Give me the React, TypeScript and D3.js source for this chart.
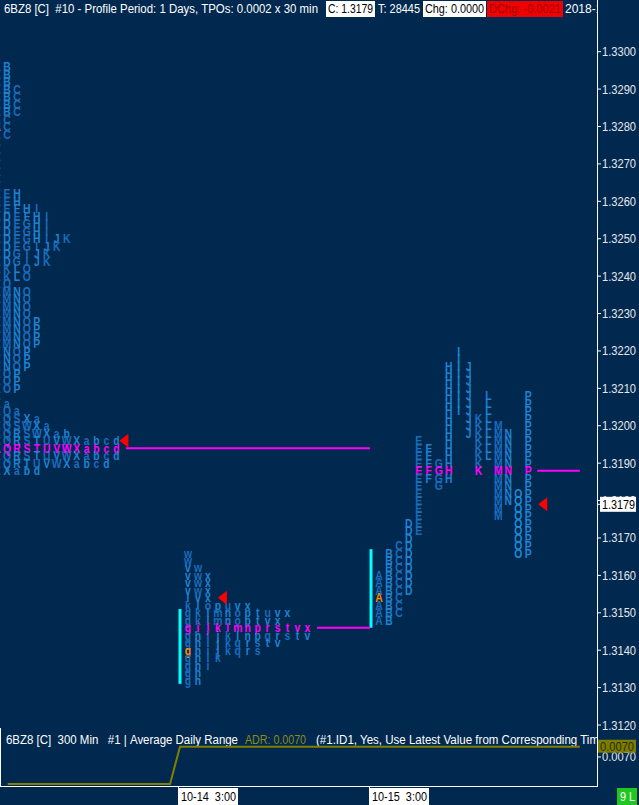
import * as d3 from "d3";

// TPO market profile, 6BZ8 30 min, 3 sessions + ADR sub-pane
const W = 639;
const H = 805;
const AXIS_X = 597;
const BOTTOM_Y = 787;
const BG = "#01294f";
const UI_FONT = "Liberation Sans, Arial, sans-serif";
const NB = "\u00a0";

const priceTicks = [1.33, 1.329, 1.328, 1.327, 1.326, 1.325, 1.324, 1.323, 1.322, 1.321, 1.32, 1.319, 1.318, 1.317, 1.316, 1.315, 1.314, 1.313, 1.312];

const sessionStarts = [new Date(2018, 9, 13, 3), new Date(2018, 9, 14, 3), new Date(2018, 9, 15, 3)];
const timeTicks = [new Date(2018, 9, 14, 3), new Date(2018, 9, 15, 3)];
const chartEnd = new Date(2018, 9, 16, 5, 30);

// day 1 (packed rows): price, letters
const day1Rows: [number, string][] = [
    [1.3296, "AB"], [1.3294, "AB"], [1.3292, "AB"], [1.329, "ABC"], [1.3288, "ABC"], [1.3286, "ABC"],
    [1.3284, "ABC"], [1.3282, "AC"], [1.328, "AC"], [1.3278, "AC"], [1.3276, "A"], [1.3274, "A"],
    [1.3272, "A"], [1.327, "A"], [1.3268, "A"], [1.3266, "A"], [1.3264, "A"], [1.3262, "AEH"],
    [1.326, "AEH"], [1.3258, "AEFHI"], [1.3256, "ADEFHI"], [1.3254, "ADEGHI"], [1.3252, "ADEGHI"],
    [1.325, "ADEGHIJK"], [1.3248, "ADEGIJK"], [1.3246, "ADGIJK"], [1.3244, "ADGIJK"], [1.3242, "AKLO"],
    [1.324, "AKLO"], [1.3238, "AO"], [1.3236, "AMNO"], [1.3234, "AMNO"], [1.3232, "AMNO"], [1.323, "AMNO"],
    [1.3228, "AMNOP"], [1.3226, "AMNOP"], [1.3224, "AMNOP"], [1.3222, "AMNOP"], [1.322, "ANOP"],
    [1.3218, "ANOP"], [1.3216, "ANOP"], [1.3214, "AOP"], [1.3212, "AOP"], [1.321, "AOP"], [1.3208, "A"],
    [1.3206, "Aa"], [1.3204, "AQa"], [1.3202, "AQSXa"], [1.32, "AQSWXa"], [1.3198, "AQRSWXab"],
    [1.3196, "AQRSTUVWXabcd"], [1.3194, "AQRSTUVWXabcd"], [1.3192, "AQRSTUVWXabcd"],
    [1.319, "AQRTUVWXabcd"], [1.3188, "AXabd"],
];
const day1Open = 1.328;
const day1Poc = 1.3194;
const day1Close = 1.3196;

// day 2 (packed rows)
const day2Rows: [number, string][] = [
    [1.3166, "w"], [1.3164, "w"], [1.3162, "vw"], [1.316, "vwx"], [1.3158, "vwx"], [1.3156, "vwx"],
    [1.3154, "lvx"], [1.3152, "klopuvx"], [1.315, "gklmnoptuvx"], [1.3148, "gklmnoptvx"],
    [1.3146, "gijklmnprstvx"], [1.3144, "ghijklnpqrstv"], [1.3142, "ghijkqrstv"], [1.314, "ghijkqrs"],
    [1.3138, "ghik"], [1.3136, "ghi"], [1.3134, "gh"], [1.3132, "gh"],
];
const day2Open = 1.314;
const day2Poc = 1.3146;
const day2Close = 1.3154;
const day2Ib: [number, number] = [1.3151, 1.3131];

// day 3 (split by period): letter, high, low
const day3Cols: [string, number, number][] = [
    ["A", 1.316, 1.3148], ["B", 1.3166, 1.3148], ["C", 1.3168, 1.315], ["D", 1.3174, 1.3156],
    ["E", 1.3196, 1.3172], ["F", 1.3194, 1.3186], ["G", 1.319, 1.3184], ["H", 1.3216, 1.3186],
    ["I", 1.322, 1.3204], ["J", 1.3216, 1.3198], ["K", 1.3202, 1.3188], ["L", 1.3208, 1.3192],
    ["M", 1.32, 1.3176], ["N", 1.3198, 1.318], ["O", 1.3182, 1.3166], ["P", 1.3208, 1.3166],
];
const day3Open = 1.3154;
const day3Poc = 1.3188;
const day3Close = 1.3179;
const day3Ib: [number, number] = [1.3167, 1.3146];

// ADR sub-pane
const adrTimes = [new Date(2018, 9, 13, 5, 36), new Date(2018, 9, 14, 2, 0), new Date(2018, 9, 14, 3, 15), new Date(2018, 9, 16, 5, 30)];
const adrValues = [0.0069, 0.0069, 0.007038, 0.007038];
const adrTicks = [0.007];

const TICK = 0.0002;
const SLOT = 9.95;
const tk = (p: number) => Math.round(p / TICK);

const tpoShade = (ch: string) => (ch.charCodeAt(0) % 2 ? "#1a6cbd" : "#1f82d2");

function Letter({ ch, cx, cy, color }: { ch: string; cx: number; cy: number; color: string }) {
    return (
        <text transform={`translate(${cx},${cy + 4.6}) scale(0.8,1)`} textAnchor="middle"
            fill={color} fontFamily={UI_FONT} fontWeight="bold" fontSize={13}>{ch}</text>
    );
}

function Tri({ x, y }: { x: number; y: number }) {
    return <path d={`M${x},${y} L${x + 9},${y - 7} L${x + 9},${y + 7} Z`} fill="#ff0000" />;
}

export default function App() {
    const y = d3.scaleLinear().domain([1.33, 1.312]).range([51.7, 725]);
    const x = d3.scaleTime().domain(timeTicks).range([178, 369]);
    const adrY = d3.scaleLinear().domain([adrValues[0], adrValues[adrValues.length - 1]]).range([784, 746.7]);
    const fmtP = d3.format(".4f");
    const fmtT = d3.timeFormat(`%m-%d${NB}${NB}%-H:%M`);

    const x1 = x(sessionStarts[0]) + 10;
    const x2 = x(sessionStarts[1]) + 10;
    const x3 = x(sessionStarts[2]) + 10;

    const packed = (rows: [number, string][], x0: number, open: number, poc: number, key: string) =>
        rows.flatMap(([p, s]) => s.split("").map((ch, i) => {
            const isPoc = tk(p) === tk(poc);
            const isOpen = tk(p) === tk(open) && i === 0;
            return <Letter key={`${key}${p}${i}`} ch={ch} cx={x0 + i * SLOT} cy={y(p)}
                color={isOpen ? "#ff8c00" : isPoc ? "#ff00ff" : tpoShade(ch)} />;
        }));

    const topTk = d3.max(day3Cols, (c) => tk(c[1]))!;
    const lowTk = d3.min(day3Cols, (c) => tk(c[2]))!;
    const day3Letters = d3.range(topTk, lowTk - 1, -1).flatMap((t) =>
        day3Cols.map(([ch, hi, lo], i) => {
            if (t > tk(hi) || t < tk(lo)) return null;
            const p = t * TICK;
            const isPoc = t === tk(day3Poc);
            const isOpen = t === tk(day3Open) && i === 0;
            const color = isOpen ? "#ff8c00" : isPoc ? "#ff00ff" : ch === "I" || ch === "O" ? "#1b8ad6" : tpoShade(ch);
            return <Letter key={`d3${t}${ch}`} ch={ch} cx={x3 + i * SLOT} cy={y(p)} color={color} />;
        })
    );

    const lastSlot = (rows: [number, string][], p: number) => rows.find((r) => tk(r[0]) === tk(p))![1].length - 1;

    const adrLine = d3.line<number>().x((_, i) => x(adrTimes[i])).y((v) => adrY(v));
    const adrLast = adrValues[adrValues.length - 1];

    const txt = { fontFamily: UI_FONT, fontSize: 12 };
    const sp = (s: string) => s.replace(/ /g, NB);

    return (
        <svg width={W} height={H} style={{ position: "fixed", left: 0, top: 0, background: BG }}>
            <defs>
                <clipPath id="plot"><rect x={0} y={0} width={AXIS_X} height={BOTTOM_Y} /></clipPath>
            </defs>
            <rect width={W} height={H} fill={BG} />

            <g clipPath="url(#plot)">
                {/* initial balance bars */}
                <rect x={x(sessionStarts[1]) + 0.5} y={y(day2Ib[0])} width={3} height={y(day2Ib[1]) - y(day2Ib[0])} fill="#00ffff" />
                <rect x={x(sessionStarts[2]) + 0.5} y={y(day3Ib[0])} width={3} height={y(day3Ib[1]) - y(day3Ib[0])} fill="#00ffff" />

                {/* POC extensions */}
                <line x1={x1 + lastSlot(day1Rows, day1Poc) * SLOT + 9.5} x2={x(sessionStarts[2]) + 1} y1={y(day1Poc)} y2={y(day1Poc)} stroke="#ff00ff" strokeWidth={2} />
                <line x1={x2 + lastSlot(day2Rows, day2Poc) * SLOT + 9.5} x2={x(sessionStarts[2]) + 1} y1={y(day2Poc)} y2={y(day2Poc)} stroke="#ff00ff" strokeWidth={2} />
                <line x1={x3 + (day3Cols.length - 1) * SLOT + 9} x2={x(chartEnd)} y1={y(day3Poc)} y2={y(day3Poc)} stroke="#ff00ff" strokeWidth={2} />

                {packed(day1Rows, x1, day1Open, day1Poc, "d1")}
                {packed(day2Rows, x2, day2Open, day2Poc, "d2")}
                {day3Letters}

                <Tri x={x1 + lastSlot(day1Rows, day1Close) * SLOT + 3} y={y(day1Close)} />
                <Tri x={x2 + lastSlot(day2Rows, day2Close) * SLOT + 10} y={y(day2Close)} />
                <Tri x={x3 + (day3Cols.length - 1) * SLOT + 10} y={y(day3Close)} />

                {/* header */}
                <text x={4} y={13} fill="#ffffff" {...txt} textLength={314} lengthAdjust="spacingAndGlyphs">{sp("6BZ8 [C]  #10 - Profile Period: 1 Days, TPOs: 0.0002 x 30 min")}</text>
                <rect x={326} y={1} width={49} height={16} fill="#ffffff" />
                <text x={328} y={13} fill="#000000" {...txt} textLength={45} lengthAdjust="spacingAndGlyphs">{`C: ${fmtP(day3Close)}`}</text>
                <text x={378} y={13} fill="#ffffff" {...txt} textLength={42} lengthAdjust="spacingAndGlyphs">T: 28445</text>
                <rect x={423} y={1} width={63} height={16} fill="#ffffff" />
                <text x={425} y={13} fill="#000000" {...txt} textLength={59} lengthAdjust="spacingAndGlyphs">Chg: 0.0000</text>
                <rect x={487} y={1} width={76} height={16} fill="#f00000" />
                <text x={489} y={13} fill="#a00000" {...txt} textLength={72} lengthAdjust="spacingAndGlyphs">DChg: -0.0021</text>
                <text x={565} y={13} fill="#ffffff" {...txt}>2018-10-15</text>

                {/* ADR pane */}
                <text x={6} y={743.5} fill="#ffffff" {...txt} textLength={232} lengthAdjust="spacingAndGlyphs">{sp("6BZ8 [C]  300 Min   #1 | Average Daily Range")}</text>
                <text x={245} y={743.5} fill="#8c8c14" {...txt} textLength={61} lengthAdjust="spacingAndGlyphs">{`ADR: ${fmtP(adrLast)}`}</text>
                <text x={316} y={743.5} fill="#ffffff" {...txt} textLength={283} lengthAdjust="spacingAndGlyphs">(#1.ID1, Yes, Use Latest Value from Corresponding Tim</text>
                <path d={adrLine(adrValues) ?? ""} fill="none" stroke="#808000" strokeWidth={2} />
            </g>

            {/* frame */}
            <line x1={AXIS_X + 0.5} x2={AXIS_X + 0.5} y1={0} y2={BOTTOM_Y} stroke="#ffffff" />
            <line x1={0} x2={AXIS_X} y1={BOTTOM_Y - 0.5} y2={BOTTOM_Y - 0.5} stroke="#ffffff" />
            <line x1={0.5} x2={0.5} y1={728} y2={BOTTOM_Y} stroke="#ffffff" />

            {/* price axis */}
            {priceTicks.map((p) => (
                <g key={p}>
                    <line x1={AXIS_X} x2={AXIS_X + 4} y1={y(p)} y2={y(p)} stroke="#ffffff" />
                    <text x={602} y={y(p) + 4.5} fill="#e4e8ee" {...txt} textLength={34} lengthAdjust="spacingAndGlyphs">{fmtP(p)}</text>
                </g>
            ))}
            <line x1={AXIS_X} x2={AXIS_X + 4} y1={y(day3Close)} y2={y(day3Close)} stroke="#ffffff" />
            <rect x={600} y={y(day3Close) - 7.5} width={36} height={15} fill="#ffffff" />
            <text x={602} y={y(day3Close) + 4.5} fill="#000000" {...txt} textLength={33} lengthAdjust="spacingAndGlyphs">{fmtP(day3Close)}</text>

            {/* ADR axis */}
            {adrTicks.map((v) => (
                <g key={v}>
                    <line x1={AXIS_X} x2={AXIS_X + 4} y1={adrY(v)} y2={adrY(v)} stroke="#ffffff" />
                    <text x={602} y={adrY(v) + 4.5} fill="#e4e8ee" {...txt} textLength={34} lengthAdjust="spacingAndGlyphs">{fmtP(v)}</text>
                </g>
            ))}
            <rect x={598} y={adrY(adrLast) - 7} width={38} height={13} fill="#7c7c00" />
            <text x={600} y={adrY(adrLast) + 4.5} fill="#2c2c00" {...txt} textLength={34} lengthAdjust="spacingAndGlyphs">{fmtP(adrLast)}</text>

            {/* time axis */}
            {timeTicks.map((t) => (
                <g key={+t}>
                    <line x1={x(t) + 0.5} x2={x(t) + 0.5} y1={BOTTOM_Y} y2={H} stroke="#ffffff" />
                    <rect x={x(t) + 1} y={BOTTOM_Y + 1} width={59} height={H - BOTTOM_Y - 1} fill="#ffffff" />
                    <text x={x(t) + 3} y={801} fill="#000000" {...txt} textLength={55} lengthAdjust="spacingAndGlyphs">{fmtT(t)}</text>
                </g>
            ))}
            <rect x={617} y={BOTTOM_Y + 1} width={20} height={H - BOTTOM_Y - 1} fill="#1ec81e" />
            <text x={620} y={801} fill="#ffffff" {...txt} textLength={15} lengthAdjust="spacingAndGlyphs">{`9${NB}L`}</text>
        </svg>
    );
}
